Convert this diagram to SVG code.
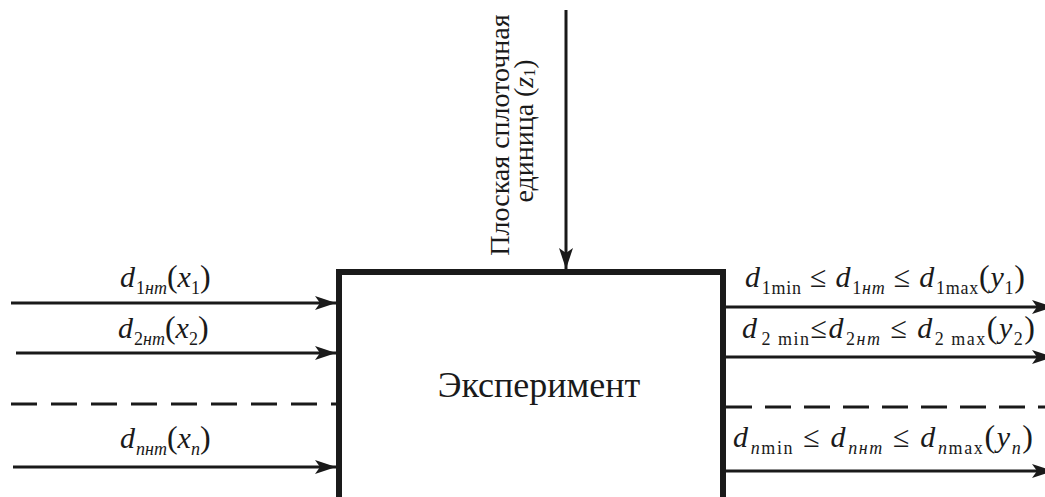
<svg xmlns="http://www.w3.org/2000/svg" width="1045" height="497" viewBox="0 0 1045 497" font-family="'Liberation Serif', 'Times New Roman', serif">
<style>
text{font-family:'Liberation Serif','Times New Roman',serif;fill:#1a1a1a}
.ln{stroke:#1a1a1a;stroke-width:3;fill:none}
.dash{stroke:#1a1a1a;stroke-width:3;fill:none;stroke-dasharray:26 14}
.m{font-size:30px}
.i{font-style:italic}
.s{font-size:18px}
.p{font-size:32px}
</style>
<defs>
<marker id="ah" markerUnits="userSpaceOnUse" markerWidth="22" markerHeight="16" refX="21" refY="8" orient="auto">
<path d="M0,1 L21,8 L0,15 L5,8 z" fill="#1a1a1a"/>
</marker>
</defs>
<rect width="1045" height="497" fill="#fff"/>
<g id="connectors">
<line class="ln" x1="11" y1="303" x2="336" y2="303" marker-end="url(#ah)"/>
<line class="ln" x1="16" y1="353" x2="336" y2="353" marker-end="url(#ah)"/>
<line class="dash" x1="11" y1="404" x2="337" y2="404"/>
<line class="ln" x1="13" y1="467" x2="336" y2="467" marker-end="url(#ah)"/>
<line class="ln" x1="726" y1="307" x2="1053" y2="307" marker-end="url(#ah)"/>
<line class="ln" x1="726" y1="357" x2="1053" y2="357" marker-end="url(#ah)"/>
<line class="dash" x1="726" y1="407" x2="1045" y2="407" style="stroke-dasharray:26 13"/>
<line class="ln" x1="726" y1="471" x2="1053" y2="471" marker-end="url(#ah)"/>
<line class="ln" x1="566" y1="10" x2="566" y2="269" marker-end="url(#ah)"/>
</g>
<g id="experiment">
<rect x="339" y="272" width="384" height="240" fill="#fff" stroke="#1a1a1a" stroke-width="6"/>
<text x="539" y="397" font-size="36" text-anchor="middle">Эксперимент</text>
</g>
<g id="input-labels">
<text class="m" x="120" y="287"><tspan class="i">d</tspan><tspan class="s" dy="7" dx="1">1</tspan><tspan class="s i">нт</tspan><tspan class="p" dy="-7">(</tspan><tspan class="i">x</tspan><tspan class="s" dy="7">1</tspan><tspan class="p" dy="-7">)</tspan></text>
<text class="m" x="118" y="338"><tspan class="i">d</tspan><tspan class="s" dy="7" dx="1">2</tspan><tspan class="s i">нт</tspan><tspan class="p" dy="-7">(</tspan><tspan class="i">x</tspan><tspan class="s" dy="7">2</tspan><tspan class="p" dy="-7">)</tspan></text>
<text class="m" x="120" y="448"><tspan class="i">d</tspan><tspan class="s i" dy="7" dx="1">nнт</tspan><tspan class="p" dy="-7">(</tspan><tspan class="i">x</tspan><tspan class="s i" dy="7">n</tspan><tspan class="p" dy="-7">)</tspan></text>
</g>
<g id="output-labels">
<text class="m" x="745" y="287" textLength="280" lengthAdjust="spacing"><tspan class="i">d</tspan><tspan class="s" dy="7" dx="1">1min</tspan><tspan dy="-7"> ≤ </tspan><tspan class="i">d</tspan><tspan class="s" dy="7" dx="1">1</tspan><tspan class="s i">нт</tspan><tspan dy="-7"> ≤ </tspan><tspan class="i">d</tspan><tspan class="s" dy="7" dx="1">1max</tspan><tspan class="p" dy="-7">(</tspan><tspan class="i">y</tspan><tspan class="s" dy="7">1</tspan><tspan class="p" dy="-7">)</tspan></text>
<text class="m" x="742" y="338" textLength="293" lengthAdjust="spacing"><tspan class="i">d</tspan><tspan class="s" dy="7" dx="3">2 min</tspan><tspan dy="-7">≤</tspan><tspan class="i">d</tspan><tspan class="s" dy="7" dx="1">2</tspan><tspan class="s i">нт</tspan><tspan dy="-7"> ≤ </tspan><tspan class="i">d</tspan><tspan class="s" dy="7" dx="1">2 max</tspan><tspan class="p" dy="-7">(</tspan><tspan class="i">y</tspan><tspan class="s" dy="7">2</tspan><tspan class="p" dy="-7">)</tspan></text>
<text class="m" x="733" y="447" textLength="300" lengthAdjust="spacing"><tspan class="i">d</tspan><tspan class="s i" dy="7" dx="1">n</tspan><tspan class="s">min</tspan><tspan dy="-7"> ≤ </tspan><tspan class="i">d</tspan><tspan class="s i" dy="7" dx="1">nнт</tspan><tspan dy="-7"> ≤ </tspan><tspan class="i">d</tspan><tspan class="s i" dy="7" dx="1">n</tspan><tspan class="s">max</tspan><tspan class="p" dy="-7">(</tspan><tspan class="i">y</tspan><tspan class="s i" dy="7">n</tspan><tspan class="p" dy="-7">)</tspan></text>
</g>
<g id="control-label">
<text font-size="28" text-anchor="middle" transform="translate(509,135) rotate(-90)">Плоская сплоточная</text>
<text font-size="28" text-anchor="middle" transform="translate(533,131) rotate(-90)">единица (<tspan class="i">z</tspan><tspan font-size="16" dy="2">1</tspan><tspan dy="-2">)</tspan></text>
</g>
</svg>
